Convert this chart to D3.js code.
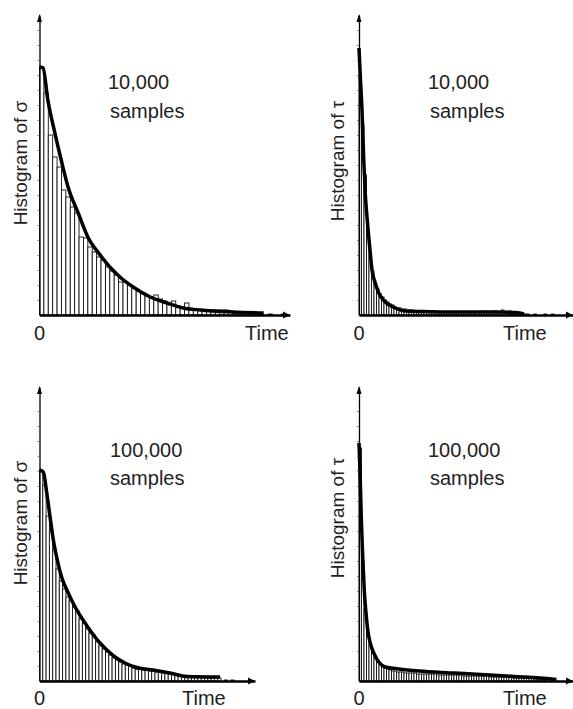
<!DOCTYPE html>
<html>
<head>
<meta charset="utf-8">
<script src="https://cdn.jsdelivr.net/npm/d3@7/dist/d3.min.js"></script>
<style>
body { margin: 0; background: #fff; }
svg { display: block; font-family: "Liberation Sans", Arial, sans-serif; }
text { fill: #222; font-size: 20px; }
text.ylab { font-size: 19px; }
</style>
</head>
<body>
<svg id="chart" width="573" height="709"></svg>
<script>
// histogram bin heights (one value per bin, bins of width 1 time unit)
const sigma10kBins = [248, 222, 180, 158, 148, 125, 118, 108, 102, 78, 77, 68, 63, 58, 55, 48, 44, 40, 33, 33,
  30, 27, 24, 22, 19, 18, 20, 16, 14, 12, 14, 9, 8, 12, 6, 6, 5, 5, 5, 5, 5, 5, 5, 4,
  2, 2, 2, 2, 2, 2, 1, 0, 1, 0, 0, 1];
const tau10kBins = [240, 190, 140, 80, 60, 44, 32, 26, 21, 18, 15, 13, 11, 10, 8, 7, 7, 6, 6, 5,
  5, 5, 4, 4, 4, 4, 4, 4, 4, 4, 3, 3, 3, 3, 3, 3, 3, 3, 3, 3, 3, 3, 3, 3, 3, 3, 3, 3, 3, 3,
  4, 3, 3, 3, 4, 3, 3, 5, 3, 3, 4, 3, 2, 2, 2, 1, 1, 1, 0, 0, 1, 0, 0, 0, 1, 0, 0, 1];
const sigma100kBins = [211, 196, 165, 150, 131, 112, 100, 92, 84, 81, 74, 70, 62, 58, 52, 48, 46, 39, 35, 32,
  29, 26, 23, 21, 19, 17, 16, 15, 13, 12, 12, 11, 11, 10, 10, 9, 9, 8, 8, 7,
  7, 6, 5, 5, 4, 4, 4, 4, 4, 4, 3, 3, 3, 3, 3, 0, 1, 0, 1];
const tau100kBins = [233, 120, 72, 48, 36, 28, 24, 20, 17, 15, 13, 12, 11, 10, 10, 9, 9, 9, 8, 8,
  8, 8, 8, 7, 7, 7, 7, 7, 7, 7, 7, 6, 6, 6, 6, 6, 6, 6, 6, 6, 6, 5, 5, 5, 5, 5, 5, 5, 5, 5,
  5, 5, 4, 4, 4, 4, 4, 4, 4, 4, 4, 3, 3, 3, 3, 3, 3, 3, 3, 3, 2, 2, 2, 1, 1];

// fitted density curves (time, height)
const sigma10kCurveT = [0, 0.8, 1.9, 3.5, 5.1, 6.5, 8.8, 11, 13.8, 16, 18.3, 21.3, 25.2, 29, 32.7, 36.6, 44, 51];
const sigma10kCurveV = [248, 247, 215, 182, 152, 128, 102, 78, 60, 48, 38, 28, 18, 12, 7, 5, 3, 2];
const tau10kCurveT = [0, 0.5, 1.2, 1.9, 2.5, 3.2, 3.9, 4.5, 5.2, 6.5, 7.9, 10.5, 14.5, 18.5, 25, 40, 55, 63, 66];
const tau10kCurveV = [267, 240, 205, 155, 122, 98, 78, 62, 45, 32, 22, 13, 7, 4, 3.5, 3, 3, 2.5, 1];
const sigma100kCurveT = [0, 1.15, 2.2, 3.2, 4.2, 5.2, 6.7, 8.7, 10.8, 13.8, 16.8, 19.8, 22.9, 25.9, 28.9, 34.4, 39.5, 44.7, 54.7];
const sigma100kCurveV = [211, 209, 188, 164, 141, 124, 104, 88, 74, 58, 44, 33, 24, 18, 14, 11, 8, 4.5, 4];
const tau100kCurveT = [0, 0.5, 0.9, 1.5, 2.1, 2.8, 3.5, 4.5, 5.9, 7.9, 10.5, 15.9, 23.9, 33, 42, 52.4, 62, 72.4, 79];
const tau100kCurveV = [238, 201, 164, 124, 91, 68, 51, 38, 28, 19, 14, 12, 10, 8.5, 7.5, 6, 4.5, 3, 1.5];

const sampleLabels = ['10,000', '100,000'];
const yLabels = ['Histogram of σ', 'Histogram of τ'];

const svg = d3.select('#chart');

const panels = [
  { bins: sigma10kBins, ct: sigma10kCurveT, cv: sigma10kCurveV, ylab: yLabels[0], count: sampleLabels[0],
    x0: 39.5, x1: 290, xMax: 57, base: 315, top: 15, yMax: 300,
    ylabX: 27, ylabY: 163, cntX: 108, cntY: 89, smpX: 110, smpY: 118, tickY: 340, timeX: 245 },
  { bins: tau10kBins, ct: tau10kCurveT, cv: tau10kCurveV, ylab: yLabels[1], count: sampleLabels[0],
    x0: 359, x1: 573, xMax: 85.6, base: 315, top: 15, yMax: 300,
    ylabX: 344, ylabY: 161, cntX: 428, cntY: 89, smpX: 430, smpY: 118, tickY: 340, timeX: 503 },
  { bins: sigma100kBins, ct: sigma100kCurveT, cv: sigma100kCurveV, ylab: yLabels[0], count: sampleLabels[1],
    x0: 39.5, x1: 255, xMax: 65.3, base: 681, top: 387, yMax: 294,
    ylabX: 27, ylabY: 523, cntX: 110, cntY: 457, smpX: 110, smpY: 485, tickY: 705, timeX: 182 },
  { bins: tau100kBins, ct: tau100kCurveT, cv: tau100kCurveV, ylab: yLabels[1], count: sampleLabels[1],
    x0: 359, x1: 573, xMax: 85.6, base: 681, top: 387, yMax: 294,
    ylabX: 344, ylabY: 518, cntX: 428, cntY: 457, smpX: 430, smpY: 485, tickY: 705, timeX: 503 }
];

panels.forEach(p => {
  const x = d3.scaleLinear().domain([0, p.xMax]).range([p.x0, p.x1]);
  const y = d3.scaleLinear().domain([0, p.yMax]).range([p.base, p.top]);
  const g = svg.append('g');

  // bars
  g.selectAll('rect.bar')
    .data(p.bins)
    .enter()
    .append('rect')
    .attr('class', 'bar')
    .attr('x', (d, i) => x(i))
    .attr('width', (d, i) => x(i + 1) - x(i))
    .attr('y', d => y(d))
    .attr('height', d => p.base - y(d))
    .attr('fill', '#fff')
    .attr('stroke', '#111')
    .attr('stroke-width', 0.9);

  // fitted curve
  const pts = p.ct.map((t, i) => [t, p.cv[i]]);
  const line = d3.line()
    .x(d => x(d[0]))
    .y(d => y(d[1]))
    .curve(d3.curveMonotoneX);
  g.append('path')
    .datum(pts)
    .attr('d', line)
    .attr('fill', 'none')
    .attr('stroke', '#000')
    .attr('stroke-width', 3.5)
    .attr('stroke-linejoin', 'round');

  // y axis with tiny ticks
  const yAxis = d3.axisLeft(y)
    .tickValues(d3.range(15, p.yMax - 10, 15))
    .tickSize(2)
    .tickSizeOuter(0)
    .tickFormat('');
  const ya = g.append('g')
    .attr('transform', 'translate(' + p.x0 + ',0)')
    .call(yAxis);
  ya.select('.domain').attr('stroke', '#000').attr('stroke-width', 1.3);
  ya.selectAll('.tick line').attr('stroke', '#555').attr('stroke-width', 0.7);
  g.append('path')
    .attr('d', 'M' + (p.x0 - 2.5) + ',' + (p.top + 7) + 'L' + p.x0 + ',' + (p.top - 1) + 'L' + (p.x0 + 2.5) + ',' + (p.top + 7) + 'Z')
    .attr('fill', '#000');

  // x axis
  const xAxis = d3.axisBottom(x).tickValues([]).tickSizeOuter(0);
  const xa = g.append('g')
    .attr('transform', 'translate(0,' + p.base + ')')
    .call(xAxis);
  xa.select('.domain').attr('stroke', '#000').attr('stroke-width', 2.6);
  g.append('path')
    .attr('d', 'M' + (p.x1 - 7) + ',' + (p.base - 3.5) + 'L' + p.x1 + ',' + p.base + 'L' + (p.x1 - 7) + ',' + (p.base + 3.5) + 'Z')
    .attr('fill', '#000');

  // labels
  g.append('text')
    .attr('class', 'ylab')
    .attr('text-anchor', 'middle')
    .attr('transform', 'translate(' + p.ylabX + ',' + p.ylabY + ') rotate(-90)')
    .text(p.ylab);
  g.append('text').attr('x', p.cntX).attr('y', p.cntY).text(p.count);
  g.append('text').attr('x', p.smpX).attr('y', p.smpY).text('samples');
  g.append('text')
    .attr('text-anchor', 'middle')
    .attr('x', x(0))
    .attr('y', p.tickY)
    .text('0');
  g.append('text').attr('x', p.timeX).attr('y', p.tickY).text('Time');
});
</script>
</body>
</html>
